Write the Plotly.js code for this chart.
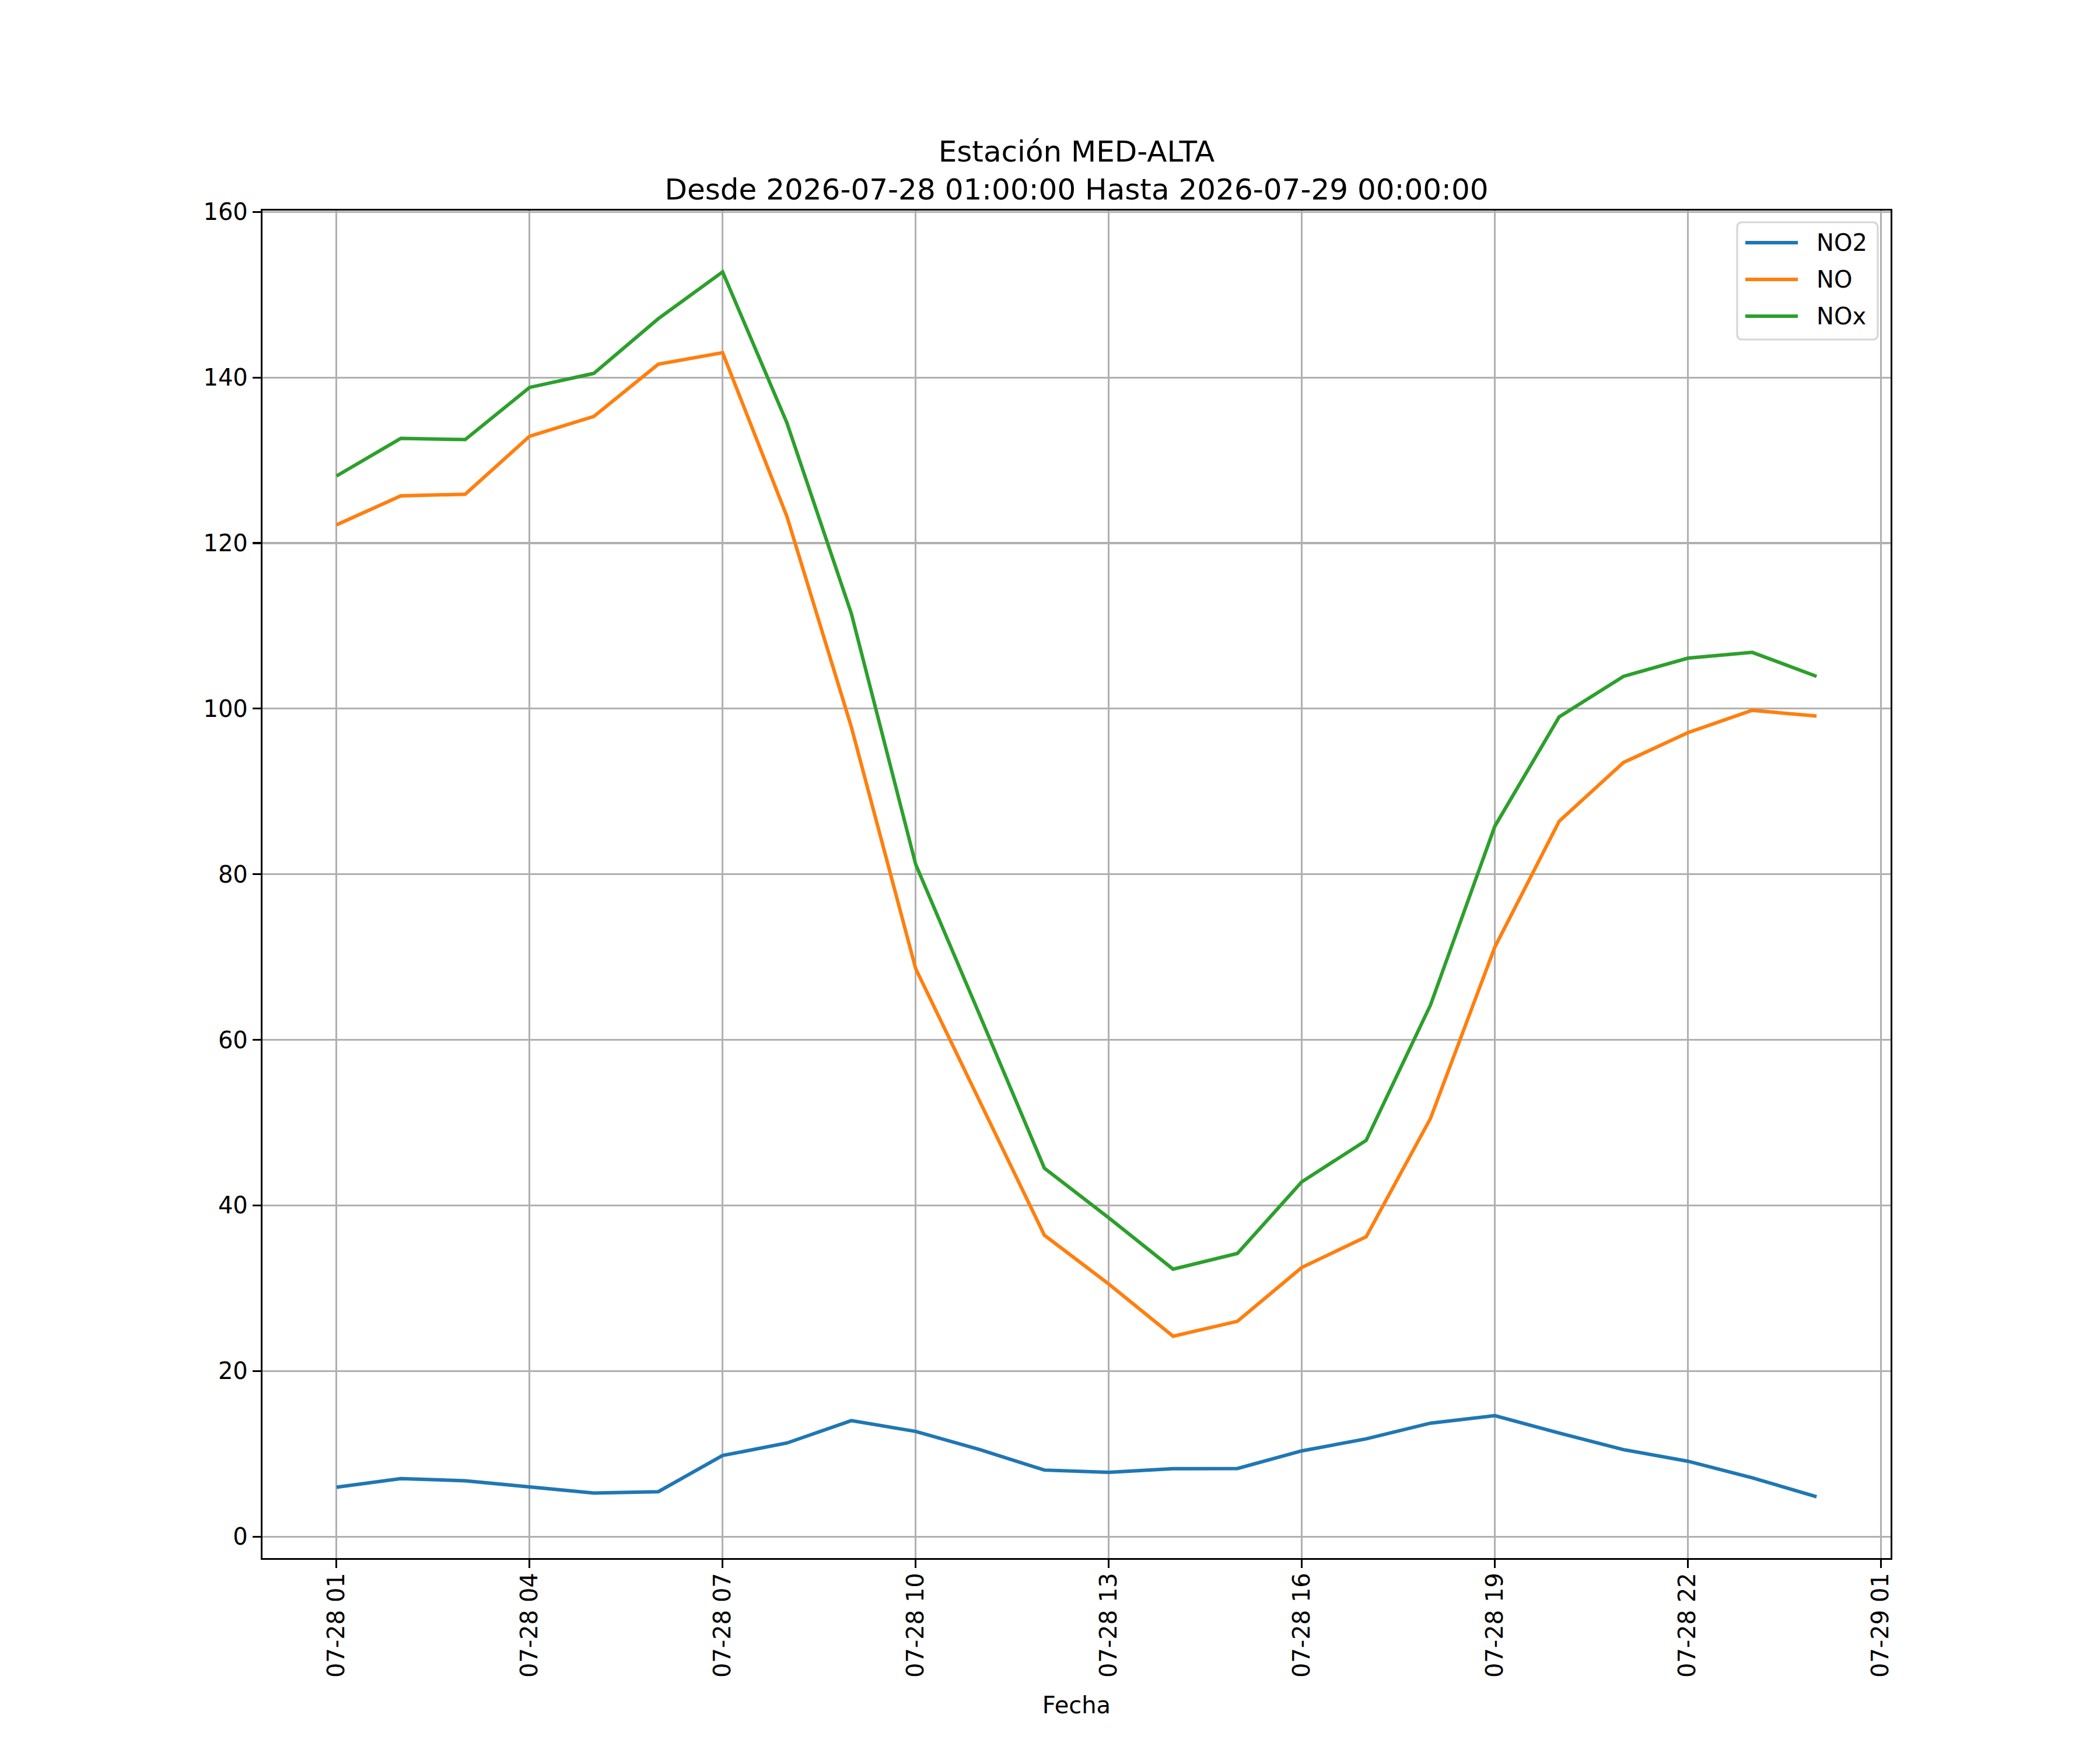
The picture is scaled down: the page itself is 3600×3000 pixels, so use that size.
<!DOCTYPE html>
<html>
<head>
<meta charset="utf-8">
<script src="https://cdn.plot.ly/plotly-3.0.1.min.js"></script>
<style>
  html, body { margin: 0; padding: 0; background: #fff; }
  #plot { width: 3600px; height: 3000px; }
</style>
</head>
<body>
<div id="plot"></div>
<script>
// Hourly NO2 / NO / NOx at station MED-ALTA, 2026-07-28 01:00 .. 2026-07-29 00:00.
const TIMES = [
  "2026-07-28 01:00", "2026-07-28 02:00", "2026-07-28 03:00", "2026-07-28 04:00",
  "2026-07-28 05:00", "2026-07-28 06:00", "2026-07-28 07:00", "2026-07-28 08:00",
  "2026-07-28 09:00", "2026-07-28 10:00", "2026-07-28 11:00", "2026-07-28 12:00",
  "2026-07-28 13:00", "2026-07-28 14:00", "2026-07-28 15:00", "2026-07-28 16:00",
  "2026-07-28 17:00", "2026-07-28 18:00", "2026-07-28 19:00", "2026-07-28 20:00",
  "2026-07-28 21:00", "2026-07-28 22:00", "2026-07-28 23:00", "2026-07-29 00:00",
];
const NO2 = [5.96, 7.0, 6.74, 6.03, 5.26, 5.42, 9.79, 11.3, 14.0, 12.7, 10.5, 8.03,
  7.75, 8.19, 8.22, 10.35, 11.8, 13.7, 14.6, 12.5, 10.5, 9.1, 7.1, 4.8];
const NO = [122.2, 125.7, 125.9, 132.9, 135.3, 141.6, 143.0, 123.2, 97.8, 68.6, 52.5, 36.4,
  30.5, 24.2, 26.0, 32.5, 36.2, 50.5, 71.2, 86.4, 93.5, 97.1, 99.8, 99.1];
const NOX = [128.1, 132.65, 132.5, 138.8, 140.5, 147.1, 152.76, 134.5, 111.5, 81.2, 62.9, 44.5,
  38.5, 32.3, 34.2, 42.85, 47.85, 64.2, 85.8, 99.0, 103.9, 106.1, 106.8, 103.9];

const X_TICKVALS = [
  "2026-07-28 01:00", "2026-07-28 04:00", "2026-07-28 07:00", "2026-07-28 10:00",
  "2026-07-28 13:00", "2026-07-28 16:00", "2026-07-28 19:00", "2026-07-28 22:00",
  "2026-07-29 01:00",
];
const X_TICKTEXT = ["07-28 01", "07-28 04", "07-28 07", "07-28 10", "07-28 13",
  "07-28 16", "07-28 19", "07-28 22", "07-29 01"];
const Y_TICKVALS = [0, 20, 40, 60, 80, 100, 120, 140, 160];

const FONT = "DejaVu Sans, sans-serif";
const SERIES = [
  { name: "NO2", y: NO2, color: "#1f77b4" },
  { name: "NO",  y: NO,  color: "#ff7f0e" },
  { name: "NOx", y: NOX, color: "#2ca02c" },
];

// Plot area in page pixels (matplotlib default subplot params on 3600x3000).
const PLOT = { l: 450, r: 3241, t: 361, b: 2671 };
const px = (x) => (x - PLOT.l) / (PLOT.r - PLOT.l);
const py = (y) => 1 - (y - PLOT.t) / (PLOT.b - PLOT.t);

const traces = SERIES.map((s) => ({
  type: "scatter", mode: "lines",
  x: TIMES, y: s.y, name: s.name,
  line: { color: s.color, width: 6 },
  showlegend: false,
}));

// ── matplotlib-like legend: rounded frame, long line handles ──────
const LEG = { x0: 2978, x1: 3219, y0: 381, y1: 582, r: 9,
  lineX0: 2992, lineX1: 3082, textX: 3113, row0: 416, rowStep: 63 };

function roundedBox(b) {
  const P = (x, y) => `${px(x)},${py(y)}`;
  return `M ${P(b.x0 + b.r, b.y0)} L ${P(b.x1 - b.r, b.y0)} Q ${P(b.x1, b.y0)} ${P(b.x1, b.y0 + b.r)}`
    + ` L ${P(b.x1, b.y1 - b.r)} Q ${P(b.x1, b.y1)} ${P(b.x1 - b.r, b.y1)}`
    + ` L ${P(b.x0 + b.r, b.y1)} Q ${P(b.x0, b.y1)} ${P(b.x0, b.y1 - b.r)}`
    + ` L ${P(b.x0, b.y0 + b.r)} Q ${P(b.x0, b.y0)} ${P(b.x0 + b.r, b.y0)} Z`;
}

const shapes = [{
  type: "path", xref: "paper", yref: "paper", layer: "above",
  path: roundedBox(LEG),
  fillcolor: "rgba(255,255,255,0.8)",
  line: { color: "rgba(204,204,204,0.8)", width: 3.2 },
}];
const annotations = [];
SERIES.forEach((s, i) => {
  const rowY = LEG.row0 + i * LEG.rowStep;
  shapes.push({
    type: "line", xref: "paper", yref: "paper", layer: "above",
    x0: px(LEG.lineX0), x1: px(LEG.lineX1), y0: py(rowY), y1: py(rowY),
    line: { color: s.color, width: 6 },
  });
  annotations.push({
    xref: "paper", yref: "paper", x: px(LEG.textX), y: py(rowY),
    xanchor: "left", yanchor: "middle", showarrow: false,
    text: s.name, font: { family: FONT, size: 40, color: "#000" },
    borderpad: 0,
  });
});

// matplotlib-style frame: 0.8pt spines, outward ticks, light grey grid
const axisCommon = {
  showline: true, mirror: true, linecolor: "#000", linewidth: 3.2,
  showgrid: true, gridcolor: "#b0b0b0", gridwidth: 3.2,
  zeroline: false,
  ticks: "outside", ticklen: 14, tickwidth: 3.2, tickcolor: "#000",
  tickfont: { family: FONT, size: 40, color: "#000" },
};

const layout = {
  width: 3600, height: 3000,
  paper_bgcolor: "#fff", plot_bgcolor: "#fff",
  margin: { l: PLOT.l, r: 3600 - PLOT.r, t: PLOT.t, b: 3000 - PLOT.b, pad: 0 },
  font: { family: FONT, size: 40, color: "#000" },
  title: {
    text: "Estación MED-ALTA<br>Desde 2026-07-28 01:00:00 Hasta 2026-07-29 00:00:00",
    font: { family: FONT, size: 50, color: "#000" },
    xref: "paper", x: 0.5, xanchor: "center",
    yref: "paper", y: 1, yanchor: "bottom",
    pad: { b: 84 },
  },
  xaxis: Object.assign({}, axisCommon, {
    type: "date",
    range: ["2026-07-27 23:51", "2026-07-29 01:09"],
    tickmode: "array", tickvals: X_TICKVALS, ticktext: X_TICKTEXT,
    tickangle: -90,
    ticklabelstandoff: -8,
    title: { text: "Fecha", font: { family: FONT, size: 40, color: "#000" }, standoff: 35 },
  }),
  yaxis: Object.assign({}, axisCommon, {
    range: [-2.6, 160.16],
    tickmode: "array", tickvals: Y_TICKVALS,
    ticklabelstandoff: 0,
  }),
  showlegend: false,
  shapes: shapes,
  annotations: annotations,
};

Plotly.newPlot("plot", traces, layout, { displayModeBar: false, staticPlot: true });
</script>
</body>
</html>
